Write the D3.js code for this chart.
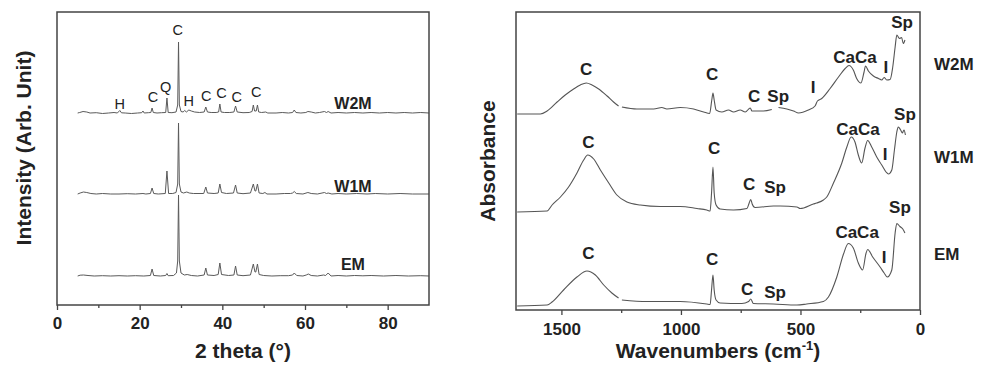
<!DOCTYPE html>
<html>
<head>
<meta charset="utf-8">
<script src="https://cdn.jsdelivr.net/npm/d3@7"></script>
<style>
  body { margin: 0; background: #fff; }
  svg text { font-family: Arial, "Liberation Sans", sans-serif; fill: #222; }
</style>
</head>
<body>
<svg id="chart" width="985" height="366"></svg>
<script>
// ---- XRD panel (left) ----
const xrdSamples = ["W2M", "W1M", "EM"];
const xrdOffsets = [192, 111, 29];   // stacking offset of each pattern (arb. unit)
const xrdTicks = [0, 20, 40, 60, 80];
const xrdMinorTicks = [10, 30, 50, 70];

// [2 theta, intensity above baseline]
const xrdW2M = [[5,0],[5.5,0.5],[6.3,1.5],[7.2,1],[8,0],[9.5,0.3],[11,-0.5],[12.5,0],[13.8,0.5],[14.6,0],[15.2,2.5],[15.6,0.2],[16.5,0],[18,-0.5],[19.5,0],[20.5,0.3],[20.8,2],[21.1,0],[22.1,0.3],[22.7,0.5],[23.0,5],[23.3,0.5],[24.2,0],[25.3,0.3],[26.3,0.5],[26.6,15],[26.9,0.5],[27.8,0.3],[28.8,1],[29.2,8],[29.4,71],[29.6,8],[30.0,1.5],[30.5,1],[30.9,2.5],[31.3,1],[31.9,3],[32.5,2],[33.3,1],[34.5,0.5],[35.6,1],[36.0,6],[36.4,1],[37.3,0.5],[38.5,0.5],[39.1,1],[39.4,9],[39.7,1],[40.5,0.5],[41.8,0.5],[42.8,1],[43.2,7],[43.6,1],[45,0.3],[46.5,0.5],[47.2,1.5],[47.5,8],[47.8,2],[48.2,2],[48.5,8],[48.8,1],[49.5,0.5],[50.5,1],[51,0],[53,0],[54.5,0.5],[56,0],[57,0.5],[57.4,3],[57.8,0.5],[59,0],[60.2,0.5],[60.7,1.5],[61.5,1],[62.5,0],[63.5,0.5],[64.7,1.5],[65.2,0.5],[65.6,1.5],[66.3,0],[68,0.5],[70,0],[72,0.5],[74,0],[76,0.5],[78,0],[80,0.5],[82,0],[84,0.5],[86,0],[88,0.5],[90,0]];
const xrdW1M = [[5,0],[5.6,1],[6.4,2],[7.2,1.5],[8.2,0.5],[9.5,0],[11,0.5],[13,0],[15,0],[17,0.3],[19,0],[20.8,0.5],[21.5,0],[22.6,0.5],[23.0,6],[23.4,0.5],[24.5,0],[26.2,0.5],[26.6,23],[27.0,0.5],[28,0.5],[28.8,1.5],[29.2,10],[29.4,71],[29.6,10],[30.0,2],[30.6,1],[31.4,2],[32,1],[33,0.5],[35.5,0.5],[36.0,7],[36.4,1],[38,0.5],[39.0,1],[39.4,10],[39.8,1.5],[41,0.5],[42.7,1],[43.2,9],[43.6,1],[45,0.3],[46.8,1],[47.5,10],[47.9,3],[48.1,3],[48.5,10],[48.9,1],[49.8,0.5],[50.3,1.5],[50.8,0],[53,0],[55,0.5],[56.5,0.5],[57.0,1],[57.4,2.5],[57.9,0.5],[59.5,0],[60.7,1.5],[61.5,0.5],[63,0],[64.7,1.5],[65.2,0.5],[65.6,1],[66.5,0],[68,0.5],[70,0],[72.5,0.5],[75,0],[77,0.5],[80,0],[83,0.5],[86,0],[90,0]];
const xrdEM = [[5,0],[5.6,0.8],[6.4,1],[7.5,0.5],[9,0],[11,0.3],[13,0],[15,0.3],[17,0],[19,0.3],[21,0],[22.6,0.5],[23.0,7],[23.4,0.5],[25,0],[26.3,0.5],[26.6,2.5],[26.9,0.3],[28.2,0.5],[28.9,3],[29.2,15],[29.4,81],[29.6,15],[30,3],[30.8,1],[31.5,1.5],[32.5,0.5],[34,0],[35.6,1],[36.0,8],[36.4,1],[38,0.5],[39.0,1.5],[39.4,13],[39.8,1.5],[41.5,0.5],[42.8,1],[43.2,10],[43.6,1],[45,0.3],[46.8,1],[47.5,12],[47.9,4],[48.1,4],[48.5,12],[48.9,1.5],[50,0.5],[52,0],[54,0.3],[56,0.3],[57.0,1],[57.4,3],[58,0.5],[59.5,0],[60.3,1],[60.8,2],[61.5,0.5],[63,0],[64.5,1],[65,0.5],[65.6,3],[66.3,0],[68,0.5],[70,0],[72,0.5],[74,0.2],[76,0.5],[79,0],[82,0.5],[85,0],[88,0.3],[90,0]];
const xrdSeries = [xrdW2M, xrdW1M, xrdEM];

// phase labels on the W2M pattern: [text, 2 theta, level]
const xrdPeakLabels = [["H",15.2,196],["C",23.2,203],["Q",26.3,213],["C",29.2,270],["H",31.9,199],["C",36.1,204],["C",39.8,207],["C",43.5,203],["C",48.2,208]];
const xrdNameLevels = [196, 113, 35];

// ---- FTIR panel (right) ----
const irSamples = ["W2M", "W1M", "EM"];
const irTicks = [1500, 1000, 500, 0];
const irMinorTicks = [1250, 750, 250];

// [wavenumber, absorbance (stacked, arb. unit)], null = gap in the record
const irW2M = [[1685,196],[1588,196],[1560,199],[1518,208],[1484,215],[1449,221],[1421,225],[1396,227],[1372,225],[1344,221],[1309,214],[1282,208],[1261,204],null,[1247,203],[1184,201],[1114,201],[1080,202.5],[1059,201],[1003,202.5],[947,201],[905,198],[880,196.5],[871,210],[866,217],[861,210],[853,200],[829,198],[801,200],[780,198],[752,200],[731,198],[710,202],[703,199],[655,199],[620,200.5],null,[592,202.5],[557,201],[529,199],[508,197],[467,200],[439,204],[429,209],[411,211.5],[376,221.5],[341,233],[313,241.5],[297,244.5],[279,240],[265,231.5],[247,227],[234,238],[228,244],[216,239],[195,234],[174,231.5],[160,230],[150,232.5],[139,230],[125,230.5],[114,243],[104,263],[97,275],[86,271.5],[77,272.5],[70,266.5],[63,270]];
const irW1M = [[1685,98],[1560,99],[1539,105],[1504,113],[1470,123],[1435,137],[1407,150],[1390,155],[1365,151],[1337,140],[1302,127],[1268,115],[1226,108],[1170,105],[1087,103.5],[1003,103.5],[933,101.5],[892,100],[878,99],[872,117],[866,143],[861,117],[853,105],[836,101],[780,100],[724,101.5],[716,106],[708,110.5],[702,106],[690,102.5],[613,104],[585,104],[515,103],[501,101.5],[446,106],[432,107],[404,110],[390,113],[362,127],[327,147],[306,163],[288,173],[272,168],[258,155],[244,147],[230,162],[219,169.5],[202,163],[181,153],[160,145],[142,138],[132,136],[118,140],[107,160],[97,178],[91,183],[81,180],[74,177],[67,180],[61,175]];
const irEM = [[1685,4],[1560,5],[1539,8],[1491,20],[1435,33],[1393,39],[1358,35],[1323,25],[1289,17],[1261,12],null,[1247,10],[1142,8.5],[1003,8.5],[892,6],[878,5.5],[872,20],[866,35],[861,20],[853,10],[836,7],[745,6.5],[717,8.5],[708,11],[697,6.5],[613,6],[515,5],[474,6],[404,8.5],[383,13],[348,33],[320,56],[300,66.5],[279,62],[258,47],[240,40],[226,56.5],[219,60.5],[198,53],[167,43],[150,37],[137,33],[118,40],[104,77],[97,86.5],[84,83.5],[72,81],[63,77]];
const irSeries = [irW2M, irW1M, irEM];

// band assignments: [text, wavenumber, level]
const irPeakLabels = [
  ["C",1397,235],["C",869,230],["C",694,208],["Sp",593,208],["I",447,217],["CaCa",272,247],["I",143,237],["Sp",75,282],
  ["C",1387,162],["C",861,156],["C",715,120],["Sp",606,117],["CaCa",259,175],["I",146,150],["Sp",63,190],
  ["C",1387,51],["C",869,45],["C",723,15],["Sp",606,12],["CaCa",263,72],["I",150,47],["Sp",84,97]
];
const irNameLevels = [240, 147, 50];

const svg = d3.select("#chart");

function drawXrd() {
  const left = 57, right = 429, top = 12, bottom = 305;
  const x = d3.scaleLinear().domain([0, 90]).range([left, right]);
  const y = d3.scaleLinear().domain([0, 293]).range([bottom, top]);

  const g = svg.append("g");

  // Minor ticks
  g.append("g")
    .attr("transform", "translate(0," + bottom + ")")
    .call(d3.axisBottom(x).tickValues(xrdMinorTicks).tickSize(3).tickFormat(""))
    .call(a => a.select(".domain").remove())
    .selectAll("line").attr("stroke", "#444").attr("stroke-width", 1.3);

  // Major ticks
  const ax = g.append("g")
    .attr("transform", "translate(0," + bottom + ")")
    .call(d3.axisBottom(x).tickValues(xrdTicks).tickSize(5).tickPadding(7).tickFormat(d3.format("d")));
  ax.select(".domain").remove();
  ax.selectAll("line").attr("stroke", "#444").attr("stroke-width", 1.3);
  ax.selectAll("text")
    .style("font-size", "17px").style("font-weight", "bold")
    .attr("fill", "#222");

  const line = d3.line()
    .x(d => x(d[0]))
    .y(d => y(d[1]));

  xrdSeries.forEach((s, i) => {
    g.append("path")
      .datum(s.map(d => [d[0], d[1] + xrdOffsets[i]]))
      .attr("d", line)
      .attr("fill", "none")
      .attr("stroke", "#5a5a5a")
      .attr("stroke-width", 1);
  });

  g.selectAll(".xpeak")
    .data(xrdPeakLabels)
    .enter()
    .append("text")
    .attr("x", d => x(d[1]))
    .attr("y", d => y(d[2]))
    .attr("text-anchor", "middle")
    .style("font-size", "14.5px")
    .text(d => d[0]);

  g.selectAll(".xname")
    .data(xrdSamples)
    .enter()
    .append("text")
    .attr("x", x(71.6))
    .attr("y", (d, i) => y(xrdNameLevels[i]))
    .attr("text-anchor", "middle")
    .style("font-size", "16px").style("font-weight", "bold")
    .text(d => d);

  g.append("rect")
    .attr("x", left).attr("y", top)
    .attr("width", right - left).attr("height", bottom - top)
    .attr("fill", "none").attr("stroke", "#444").attr("stroke-width", 1.5);

  // Axis titles
  g.append("text")
    .attr("transform", "translate(31,148)rotate(-90)")
    .attr("text-anchor", "middle")
    .style("font-size", "21px").style("font-weight", "bold")
    .text("Intensity (Arb. Unit)");

  g.append("text")
    .attr("x", (left + right) / 2)
    .attr("y", 358)
    .attr("text-anchor", "middle")
    .style("font-size", "21px").style("font-weight", "bold")
    .text("2 theta (°)");
}

function drawFtir() {
  const left = 516, right = 920, top = 12, bottom = 310;
  const x = d3.scaleLinear().domain([1690, 0]).range([left, right]);
  const y = d3.scaleLinear().domain([0, 298]).range([bottom, top]);

  const g = svg.append("g");

  g.append("g")
    .attr("transform", "translate(0," + bottom + ")")
    .call(d3.axisBottom(x).tickValues(irMinorTicks).tickSize(3).tickFormat(""))
    .call(a => a.select(".domain").remove())
    .selectAll("line").attr("stroke", "#444").attr("stroke-width", 1.3);

  const ax = g.append("g")
    .attr("transform", "translate(0," + bottom + ")")
    .call(d3.axisBottom(x).tickValues(irTicks).tickSize(5).tickPadding(8).tickFormat(d3.format("d")));
  ax.select(".domain").remove();
  ax.selectAll("line").attr("stroke", "#444").attr("stroke-width", 1.3);
  ax.selectAll("text")
    .style("font-size", "17px").style("font-weight", "bold")
    .attr("fill", "#222");

  // smooth through the read-off points
  const line = d3.line()
    .defined(d => d !== null)
    .curve(d3.curveMonotoneX)
    .x(d => x(d[0]))
    .y(d => y(d[1]));

  irSeries.forEach(s => {
    g.append("path")
      .datum(s)
      .attr("d", line)
      .attr("fill", "none")
      .attr("stroke", "#555")
      .attr("stroke-width", 1.1);
  });

  g.selectAll(".ipeak")
    .data(irPeakLabels)
    .enter()
    .append("text")
    .attr("x", d => x(d[1]))
    .attr("y", d => y(d[2]))
    .attr("text-anchor", "middle")
    .style("font-size", "17px").style("font-weight", "bold")
    .text(d => d[0]);

  g.selectAll(".iname")
    .data(irSamples)
    .enter()
    .append("text")
    .attr("x", right + 14)
    .attr("y", (d, i) => y(irNameLevels[i]))
    .style("font-size", "17px").style("font-weight", "bold")
    .text(d => d);

  g.append("rect")
    .attr("x", left).attr("y", top)
    .attr("width", right - left).attr("height", bottom - top)
    .attr("fill", "none").attr("stroke", "#444").attr("stroke-width", 1.5);

  g.append("text")
    .attr("transform", "translate(495," + (top + bottom) / 2 + ")rotate(-90)")
    .attr("text-anchor", "middle")
    .style("font-size", "21px").style("font-weight", "bold")
    .text("Absorbance");

  const t = g.append("text")
    .attr("x", (left + right) / 2)
    .attr("y", 358)
    .attr("text-anchor", "middle")
    .style("font-size", "21px").style("font-weight", "bold");
  t.append("tspan").text("Wavenumbers (cm");
  t.append("tspan").attr("dy", -8).style("font-size", "13px").text("-1");
  t.append("tspan").attr("dy", 8).text(")");
}

drawXrd();
drawFtir();
</script>
</body>
</html>
